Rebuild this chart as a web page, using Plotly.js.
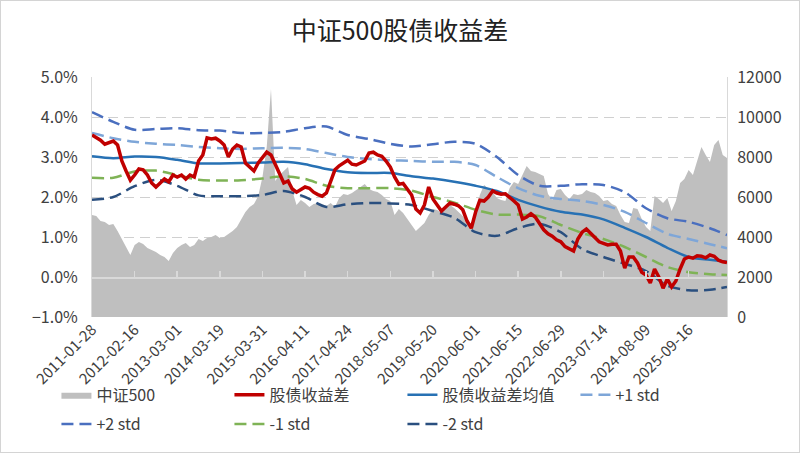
<!DOCTYPE html>
<html>
<head>
<meta charset="utf-8">
<script src="https://cdn.plot.ly/plotly-3.0.1.min.js"></script>
<style>
  body { margin: 0; background: #fff; }
  #wrap { position: relative; width: 800px; height: 453px; }
  #chart { width: 800px; height: 453px; }
  #frame { position: absolute; left: 0; top: 0; width: 800px; height: 453px; box-sizing: border-box; border: 1px solid #d4d4d4; pointer-events: none; }
</style>
</head>
<body>
<div id="wrap">
  <div id="chart"></div>
  <div id="frame"></div>
</div>
<script>
// category tick labels (one per tick interval)
var tick_labels = ['2011-01-28', '2012-02-16', '2013-03-01', '2014-03-19', '2015-03-31',
    '2016-04-11', '2017-04-24', '2018-05-07', '2019-05-20', '2020-06-01',
    '2021-06-15', '2022-06-29', '2023-07-14', '2024-08-09', '2025-09-16'];

// 中证500 index level, sampled every 0.1 tick interval (right axis)
var csi500 = [
    5100, 5050, 4800, 4750, 4600, 4650, 4300, 3900, 3450, 3100,
    3600, 3750, 3650, 3450, 3350, 3250, 3100, 3000, 2800, 3200,
    3450, 3600, 3700, 3500, 3600, 3900, 3800, 3950, 4000, 4100,
    3950, 4000, 4150, 4300, 4500, 4900, 5250, 5500, 5650, 6050,
    7000, 8500, 11400, 6800, 7100, 7300, 7500, 6300, 5600, 5850,
    5700, 5500, 5650, 5700, 5650, 5550, 5700, 5500, 5950, 6150,
    6100, 6200, 6350, 6500, 6650, 6400, 6300, 6250, 6100, 5900,
    5800, 5100, 5400, 5200, 4900, 4600, 4300, 4500, 4700, 5100,
    5400, 5350, 5200, 5500, 5600, 5450, 5250, 5050, 4750, 4550,
    5000, 6100, 6600, 6400, 6250, 5950, 5850, 5800, 6450, 6750,
    6650, 7100, 7550, 7300, 7250, 7150, 7050, 6150, 5850, 6350,
    6400, 6100, 5900, 6150, 6100, 6150, 6350, 6250, 6200, 6050,
    5800, 5850, 5650, 5550, 5100, 4750, 4700, 5450, 5400, 4900,
    4500, 4300, 6050, 5900, 5700, 5950, 5300, 5800, 6700, 6900,
    7350, 7100, 7800, 8500, 8100, 7750, 8600, 8850, 8100, 7950];

// 股债收益差 (%), same sampling
var spread = [
    3.55, 3.48, 3.42, 3.32, 3.36, 3.40, 3.30, 2.90, 2.65, 2.42,
    2.55, 2.70, 2.68, 2.55, 2.35, 2.25, 2.35, 2.45, 2.38, 2.55,
    2.50, 2.55, 2.45, 2.55, 2.50, 2.90, 3.05, 3.48, 3.45, 3.47,
    3.40, 3.30, 3.00, 3.20, 3.30, 3.25, 2.85, 2.75, 2.65, 2.85,
    3.00, 3.12, 3.05, 2.80, 2.55, 2.35, 2.40, 2.20, 2.12, 2.18,
    2.25, 2.22, 2.12, 2.06, 2.02, 2.10, 2.40, 2.68, 2.78, 2.84,
    2.92, 2.82, 2.80, 2.85, 2.90, 3.10, 3.12, 3.05, 3.02, 2.90,
    2.75, 2.50, 2.32, 2.34, 2.20, 2.05, 1.70, 1.60, 1.80, 2.25,
    1.95, 1.78, 1.65, 1.75, 1.85, 1.82, 1.78, 1.68, 1.40, 1.22,
    1.62, 1.92, 1.90, 2.00, 2.15, 2.10, 2.07, 2.08, 2.00, 1.90,
    1.80, 1.45, 1.50, 1.58, 1.50, 1.32, 1.18, 1.08, 1.02, 0.93,
    0.88, 0.76, 0.70, 0.65, 0.95, 1.12, 1.20, 1.10, 0.98, 0.88,
    0.84, 0.80, 0.82, 0.82, 0.65, 0.22, 0.50, 0.50, 0.35, 0.12,
    0.05, -0.15, 0.20, 0.00, -0.28, -0.05, -0.25, -0.10, 0.20, 0.45,
    0.50, 0.47, 0.53, 0.52, 0.48, 0.55, 0.52, 0.42, 0.38, 0.36];

// rolling mean and bands (%), sampled every 0.5 tick interval
var spread_mean = [3.02, 2.97, 3.01, 3.00, 2.93, 2.84, 2.84, 2.85, 2.86, 2.88, 2.82, 2.70, 2.62, 2.60, 2.60, 2.52,
    2.46, 2.38, 2.28, 2.15, 1.93, 1.76, 1.63, 1.56, 1.44, 1.23, 1.00, 0.73, 0.50, 0.43, 0.38];
var plus1_std = [3.60, 3.47, 3.38, 3.33, 3.30, 3.25, 3.22, 3.20, 3.22, 3.23, 3.20, 3.10, 3.00, 2.95, 2.92, 2.90,
    2.88, 2.88, 2.80, 2.50, 2.22, 2.03, 1.95, 1.90, 1.80, 1.63, 1.35, 1.08, 0.95, 0.82, 0.72];
var plus2_std = [4.12, 3.88, 3.68, 3.70, 3.72, 3.67, 3.66, 3.60, 3.60, 3.63, 3.72, 3.76, 3.55, 3.45, 3.33, 3.26,
    3.32, 3.38, 3.33, 3.00, 2.55, 2.28, 2.28, 2.32, 2.30, 2.12, 1.72, 1.47, 1.38, 1.22, 1.05];
var minus1_std = [2.48, 2.48, 2.64, 2.66, 2.55, 2.43, 2.41, 2.42, 2.46, 2.52, 2.45, 2.28, 2.22, 2.22, 2.22, 2.16,
    2.00, 1.86, 1.68, 1.56, 1.56, 1.52, 1.30, 1.10, 0.95, 0.75, 0.50, 0.25, 0.12, 0.07, 0.05];
var minus2_std = [1.93, 2.00, 2.27, 2.43, 2.28, 2.04, 2.02, 2.02, 2.05, 2.15, 2.00, 1.75, 1.82, 1.85, 1.84, 1.80,
    1.65, 1.48, 1.12, 1.03, 1.22, 1.33, 1.12, 0.70, 0.50, 0.33, 0.15, -0.22, -0.33, -0.32, -0.25];

var x_end = 14.9;
var font_family = '"Noto Sans CJK SC", "Noto Sans", sans-serif';
var text_color = '#404040';
var axis_color = '#d9d9d9';

function positions(n, step)
{
    var result = [];
    for (var i = 0; i < n; ++i)
        result.push(Math.min(i * step, x_end));
    return result;
}

var daily_x = positions(spread.length, 0.1);
var band_x = positions(spread_mean.length, 0.5);
var tick_pos = tick_labels.map(function(d, i) { return i; });

function band(name, values, color, rank, legend)
{
    return {
        name: name, x: band_x, y: values, xaxis: 'x2', yaxis: 'y2',
        type: 'scatter', mode: 'lines', legendrank: rank, legend: legend,
        line: {color: color, width: 2.5, dash: '12px,6px', shape: 'spline', smoothing: 0.8},
        hoverinfo: 'skip'
    };
}

var traces = [
    {
        name: '中证500', x: daily_x, y: csi500, xaxis: 'x', yaxis: 'y',
        type: 'scatter', mode: 'lines', fill: 'tozeroy',
        fillcolor: '#bfbfbf', line: {color: '#bfbfbf', width: 0},
        legendrank: 1, legend: 'legend', hoverinfo: 'skip'
    },
    band('+1 std', plus1_std, '#7ea6d8', 4, 'legend'),
    band('+2 std', plus2_std, '#4a6fbf', 5, 'legend2'),
    band('-1 std', minus1_std, '#7fb356', 6, 'legend2'),
    band('-2 std', minus2_std, '#2a4f7f', 7, 'legend2'),
    {
        name: '股债收益差均值', x: band_x, y: spread_mean, xaxis: 'x2', yaxis: 'y2',
        type: 'scatter', mode: 'lines', legendrank: 3, legend: 'legend',
        line: {color: '#2771b4', width: 2.5, shape: 'spline', smoothing: 0.8},
        hoverinfo: 'skip'
    },
    {
        name: '股债收益差', x: daily_x, y: spread, xaxis: 'x2', yaxis: 'y2',
        type: 'scatter', mode: 'lines', legendrank: 2, legend: 'legend',
        line: {color: '#c00000', width: 3.5},
        hoverinfo: 'skip'
    }
];

function legend_row(y)
{
    return {
        orientation: 'h', x: -0.056, xanchor: 'left', y: y, yanchor: 'top',
        font: {size: 16, color: text_color}, traceorder: 'normal',
        entrywidth: 128, entrywidthmode: 'pixels', bgcolor: 'rgba(0,0,0,0)'
    };
}

var layout = {
    width: 800, height: 453,
    margin: {l: 92, r: 73, t: 77, b: 136},
    paper_bgcolor: '#ffffff', plot_bgcolor: '#ffffff',
    font: {family: font_family, color: text_color, size: 16},
    title: {
        text: '中证500股债收益差',
        font: {family: font_family, size: 25, color: '#222222'},
        x: 0.5, xanchor: 'center', y: 0.932, yanchor: 'middle', yref: 'container'
    },
    showlegend: true,
    legend: legend_row(-0.254),
    legend2: legend_row(-0.375),
    xaxis: {
        range: [0, x_end], tickmode: 'array', tickvals: tick_pos, ticktext: tick_labels,
        tickangle: -45, ticks: '', showgrid: false, showline: false, zeroline: false,
        tickfont: {size: 15, color: text_color}, fixedrange: true
    },
    xaxis2: {
        range: [0, x_end], overlaying: 'x', anchor: 'free', position: 1 / 6,
        tickmode: 'array', tickvals: tick_pos, showticklabels: false,
        ticks: 'inside', ticklen: 6, tickcolor: axis_color, tickwidth: 1.5,
        showline: true, linecolor: axis_color, linewidth: 1.5,
        showgrid: false, zeroline: false, fixedrange: true
    },
    yaxis: {
        side: 'right', range: [0, 12000], dtick: 2000, tickformat: 'd',
        showgrid: false, zeroline: false,
        showline: true, linecolor: axis_color, ticks: '', ticklabelstandoff: 6,
        tickfont: {size: 16, color: text_color}, fixedrange: true
    },
    yaxis2: {
        side: 'left', overlaying: 'y', anchor: 'x', range: [-1, 5], dtick: 1,
        tickformat: '.1f', ticksuffix: '%',
        showgrid: true, gridcolor: '#d0d0d0', griddash: '10px,6px', gridwidth: 1,
        zeroline: false, showline: true, linecolor: axis_color, ticks: '', ticklabelstandoff: 10,
        tickfont: {size: 16, color: text_color}, fixedrange: true
    }
};

Plotly.newPlot('chart', traces, layout, {staticPlot: true});
</script>
</body>
</html>
